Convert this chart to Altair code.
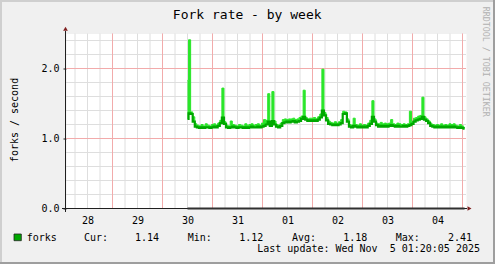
import altair as alt
import pandas as pd

# ---------------- data ----------------
start_hour = 60  # hours since Oct 28 00:00 (data begins Oct 30 12:00)

avg_rate = [
    1.28, 1.36, 1.35, 1.24, 1.17, 1.16, 1.15, 1.16, 1.15, 1.16,
    1.16, 1.15, 1.16, 1.17, 1.16, 1.18, 1.22, 1.30, 1.21, 1.16,
    1.15, 1.16, 1.17, 1.16, 1.15, 1.16, 1.16, 1.15, 1.16, 1.15,
    1.16, 1.17, 1.16, 1.16, 1.17, 1.16, 1.17, 1.18, 1.20, 1.24,
    1.18, 1.25, 1.20, 1.17, 1.16, 1.18, 1.22, 1.23, 1.24, 1.23,
    1.24, 1.25, 1.23, 1.24, 1.25, 1.28, 1.31, 1.27, 1.25, 1.26,
    1.25, 1.26, 1.25, 1.27, 1.30, 1.40, 1.33, 1.26, 1.21, 1.20,
    1.19, 1.20, 1.19, 1.20, 1.22, 1.35, 1.36, 1.24, 1.17, 1.16,
    1.18, 1.17, 1.16, 1.17, 1.16, 1.17, 1.16, 1.18, 1.21, 1.31,
    1.24, 1.19, 1.17, 1.18, 1.17, 1.18, 1.17, 1.18, 1.19, 1.18,
    1.17, 1.18, 1.17, 1.17, 1.18, 1.17, 1.18, 1.19, 1.21, 1.24,
    1.26, 1.27, 1.28, 1.31, 1.27, 1.25, 1.22, 1.18, 1.17, 1.16,
    1.17, 1.16, 1.17, 1.16, 1.17, 1.16, 1.17, 1.16, 1.17, 1.16,
    1.15, 1.16, 1.15, 1.14,
]

max_rate = [
    1.83, 2.41, 1.38, 1.31, 1.21, 1.19, 1.18, 1.20, 1.18, 1.21,
    1.19, 1.18, 1.20, 1.21, 1.19, 1.22, 1.26, 1.72, 1.24, 1.19,
    1.18, 1.25, 1.20, 1.19, 1.18, 1.20, 1.19, 1.18, 1.21, 1.19,
    1.20, 1.21, 1.19, 1.20, 1.21, 1.19, 1.22, 1.27, 1.26, 1.64,
    1.22, 1.67, 1.25, 1.20, 1.19, 1.22, 1.27, 1.28, 1.27, 1.28,
    1.28, 1.29, 1.27, 1.28, 1.30, 1.32, 1.69, 1.30, 1.28, 1.29,
    1.29, 1.30, 1.28, 1.31, 1.35, 1.99, 1.37, 1.30, 1.25, 1.23,
    1.22, 1.24, 1.22, 1.24, 1.27, 1.39, 1.38, 1.28, 1.20, 1.19,
    1.29, 1.20, 1.19, 1.21, 1.19, 1.20, 1.19, 1.22, 1.26, 1.54,
    1.28, 1.22, 1.21, 1.23, 1.21, 1.22, 1.21, 1.22, 1.27, 1.21,
    1.20, 1.22, 1.21, 1.20, 1.21, 1.20, 1.21, 1.39, 1.24, 1.29,
    1.30, 1.32, 1.33, 1.59, 1.31, 1.28, 1.25, 1.21, 1.20, 1.19,
    1.20, 1.19, 1.21, 1.19, 1.20, 1.19, 1.21, 1.20, 1.21, 1.19,
    1.18, 1.20, 1.18, 1.16,
]

hours = list(range(start_hour, start_hour + len(avg_rate)))

day_labels = ["28", "29", "30", "31", "01", "02", "03", "04"]
label_hours = [12 + 24 * i for i in range(len(day_labels))]   # noon of each day
major_x = [24 * i for i in range(1, 9)]                        # midnights
minor_x = [6 * i for i in range(1, 33)]                        # every 6 hours
major_y = [1.0, 2.0]
minor_y = [round(0.2 * i, 1) for i in range(1, 13)]
y_ticks = [0.0, 1.0, 2.0]

title_text = "Fork rate - by week"
y_title = "forks / second"
series_name = "forks"
stat_names = ["Cur:", "Min:", "Avg:", "Max:"]
stat_values = ["1.14", "1.12", "1.18", "2.41"]
last_update = "Last update: Wed Nov \u00a05 01:20:05 2025"
watermark = "RRDTOOL / TOBI OETIKER"

# ---------------- styling ----------------
FONT = "DejaVu Sans Mono"
W, H = 400, 175
DARK = "#00A800"
LIGHT = "#2AE62A"
GRID = "#DEDEDE"
MGRID = "#F2ABAB"
AXIS = "#1F1F1F"
ARROW = "#802020"

x_scale = alt.Scale(domain=[1.68, 193.68], nice=False, zero=False)
y_scale = alt.Scale(domain=[0, 2.5], nice=False, zero=False)

lab_expr = "[" + ",".join("'%s'" % d for d in day_labels) + "][floor((datum.value - 12) / 24)]"
x_axis = alt.Axis(values=label_hours, labelExpr=lab_expr, title=None, grid=False,
                  ticks=False, tickSize=0, domain=False, labelFont=FONT, labelFontSize=10,
                  labelColor="#000000", labelBaseline="alphabetic", labelPadding=14.8,
                  labelAlign="center", labelFlush=False, labelOverlap=False)
y_axis = alt.Axis(values=y_ticks, format=".1f", title=None, grid=False, ticks=True,
                  tickSize=3, tickColor=AXIS, domain=False, labelFont=FONT,
                  labelFontSize=10, labelColor="#000000", labelPadding=4,
                  labelFlush=False, labelOverlap=False)

X = lambda f: alt.X(f, type="quantitative", scale=x_scale, axis=x_axis)
Y = lambda f: alt.Y(f, type="quantitative", scale=y_scale, axis=y_axis)

series = pd.DataFrame({"h": hours, "avg": avg_rate, "max": max_rate})
one = alt.Data(values=[{"a": 1}])

layers = []
# grid
layers.append(alt.Chart(pd.DataFrame({"h": minor_x})).mark_rule(color=GRID, strokeWidth=1).encode(x=X("h")))
layers.append(alt.Chart(pd.DataFrame({"v": minor_y})).mark_rule(color=GRID, strokeWidth=1).encode(y=Y("v")))
layers.append(alt.Chart(pd.DataFrame({"h": major_x})).mark_rule(color=MGRID, strokeWidth=1).encode(x=X("h")))
layers.append(alt.Chart(pd.DataFrame({"v": major_y})).mark_rule(color=MGRID, strokeWidth=1).encode(y=Y("v")))

# data: light envelope up to the max, dark average line on top
layers.append(alt.Chart(series).mark_area(color=LIGHT, opacity=1, interpolate="step").encode(
    x=X("h"), y=Y("max"), y2="avg"))
layers.append(alt.Chart(series).mark_line(color=LIGHT, strokeWidth=1, interpolate="step").encode(
    x=X("h"), y=Y("max")))
layers.append(alt.Chart(series).mark_line(color=DARK, strokeWidth=2.2, interpolate="step").encode(
    x=X("h"), y=Y("avg")))

# axes lines and arrows
layers.append(alt.Chart(one).mark_rule(color=AXIS, strokeWidth=1).encode(
    x=alt.value(-0.5), y=alt.value(-2.5), y2=alt.value(178.5)))
layers.append(alt.Chart(one).mark_rule(color=AXIS, strokeWidth=1).encode(
    x=alt.value(-4), x2=alt.value(401), y=alt.value(175)))
span = pd.DataFrame({"h0": [hours[0]], "h1": [hours[-1]], "z": [0.0]})
layers.append(alt.Chart(span).mark_rule(color="#303030", strokeWidth=2).encode(
    x=X("h0"), x2="h1", y=Y("z")))
layers.append(alt.Chart(one).mark_point(shape="triangle-up", filled=True, color=ARROW, size=22, opacity=1).encode(
    x=alt.value(-0.5), y=alt.value(-4.8)))
layers.append(alt.Chart(one).mark_point(shape="triangle-right", filled=True, color=ARROW, size=22, opacity=1).encode(
    x=alt.value(403.5), y=alt.value(175)))

# texts
def txt(s, x, y, size=10, align="left", baseline="alphabetic", angle=0, color="#000000"):
    return alt.Chart(alt.Data(values=[{"t": s}])).mark_text(
        font=FONT, fontSize=size, align=align, baseline=baseline, angle=angle, color=color
    ).encode(text="t:N", x=alt.value(x), y=alt.value(y))

layers.append(txt(title_text, 181.2, -14.5, size=13, align="center"))
layers.append(txt(y_title, -51.5, 86.5, size=10, align="center", baseline="middle", angle=270))
layers.append(txt(watermark, 419.3, 28.2, size=8.3, align="center", baseline="middle", angle=90, color="#B0B0B0"))

layers.append(alt.Chart(one).mark_rect(color=DARK, stroke="#222222", strokeWidth=0.8).encode(
    x=alt.value(-52), x2=alt.value(-44.7), y=alt.value(200.5), y2=alt.value(207.2)))
layers.append(txt(series_name, -39.3, 207))
name_x = [18, 121.7, 226, 329.7]
val_x = [93, 197.3, 301.3, 406]
for n, v, nx, vx in zip(stat_names, stat_values, name_x, val_x):
    layers.append(txt(n, nx, 207))
    layers.append(txt(v, vx, 207, align="right"))
layers.append(txt(last_update, 414, 218, align="right"))

# frame (3D shade)
layers.append(alt.Chart(one).mark_rect(color="#CFCFCF").encode(
    x=alt.value(-66), x2=alt.value(-64), y=alt.value(-33.5), y2=alt.value(230.5)))
layers.append(alt.Chart(one).mark_rect(color="#CFCFCF").encode(
    x=alt.value(-66), x2=alt.value(429), y=alt.value(-33.5), y2=alt.value(-31.5)))
layers.append(alt.Chart(one).mark_rect(color="#9E9E9E").encode(
    x=alt.value(427), x2=alt.value(429), y=alt.value(-33.5), y2=alt.value(230.5)))
layers.append(alt.Chart(one).mark_rect(color="#9E9E9E").encode(
    x=alt.value(-66), x2=alt.value(429), y=alt.value(228.5), y2=alt.value(230.5)))

chart = alt.layer(*layers).properties(
    width=W, height=H,
    padding={"left": 66, "top": 33.5, "right": 29, "bottom": 55.5},
    autosize=alt.AutoSizeParams(type="none"),
).configure(background="#F0F0F0").configure_view(fill="#FFFFFF", stroke="transparent")

chart.save("out.html", embed_options={"renderer": "svg", "actions": False})
